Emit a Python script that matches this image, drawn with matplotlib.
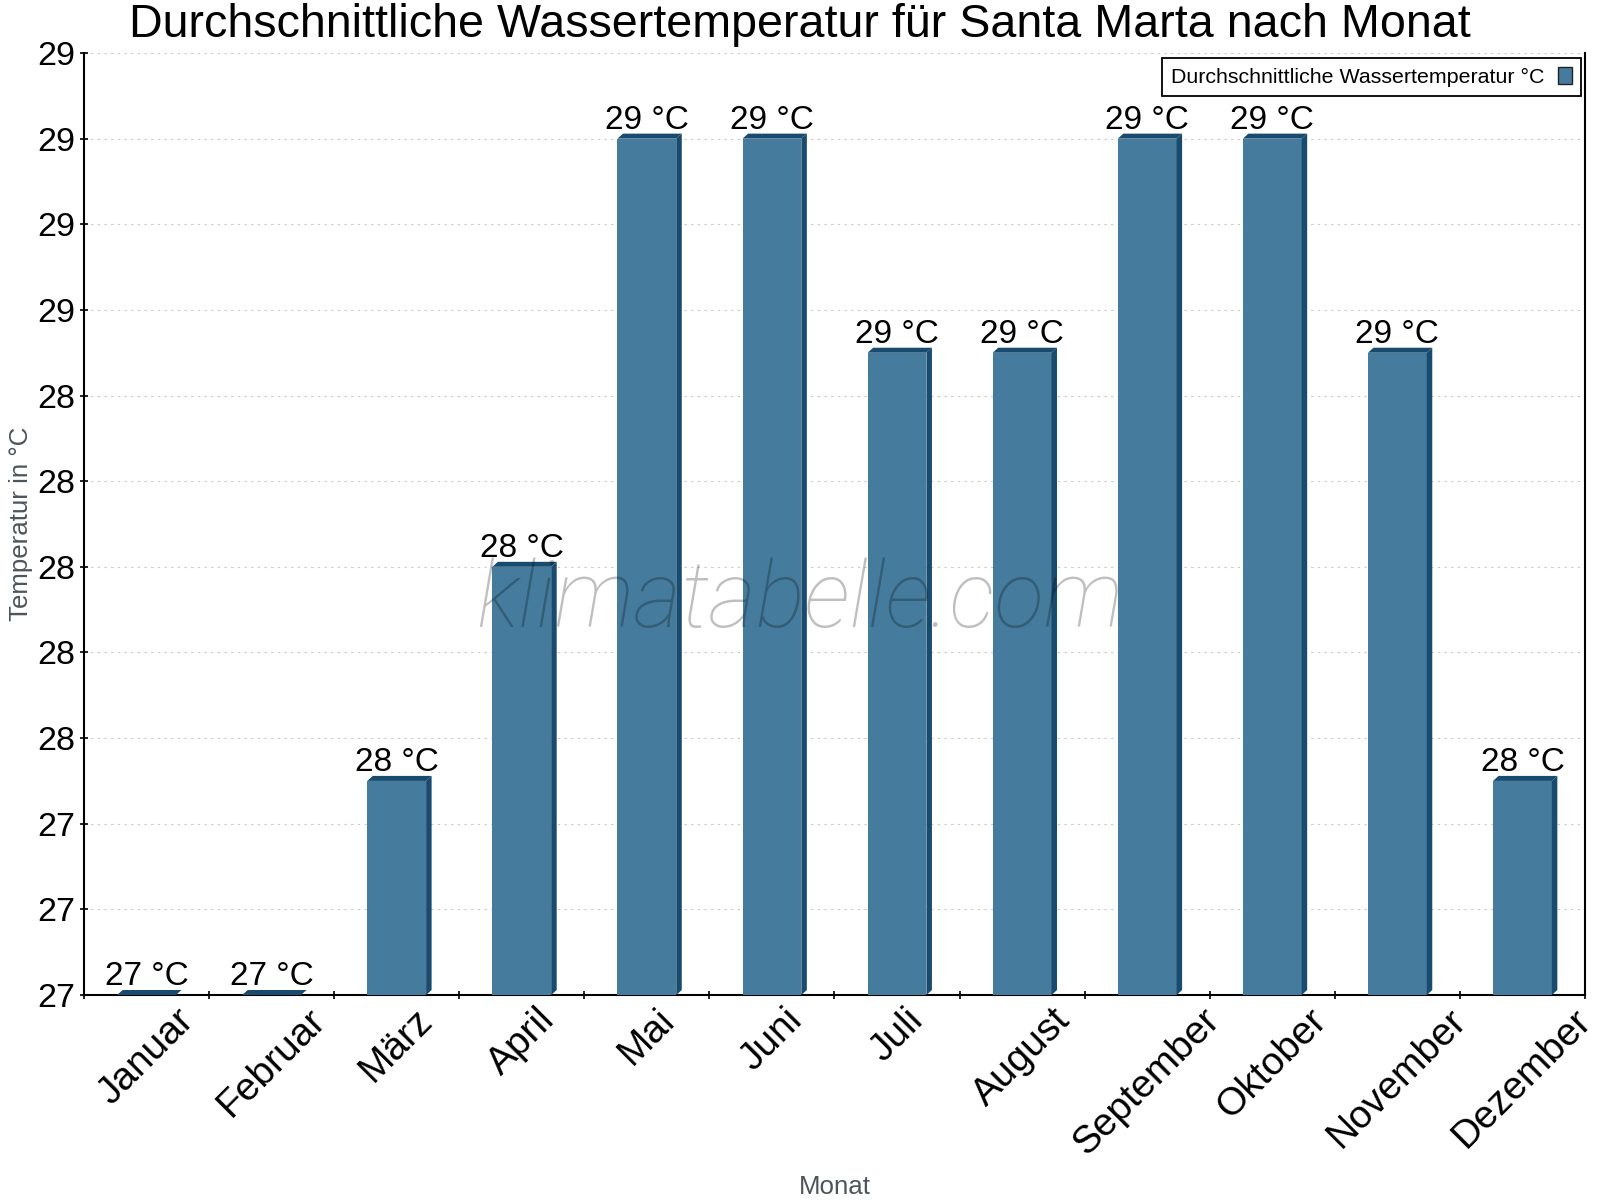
import math
import numpy as np
import matplotlib
matplotlib.use("Agg")
import matplotlib.pyplot as plt
from matplotlib.patches import Polygon
from matplotlib.ticker import FixedLocator, FuncFormatter, NullFormatter

plt.rcParams['font.family'] = ['Liberation Sans', 'DejaVu Sans']

# ---- data ----
months = ["Januar", "Februar", "März", "April", "Mai", "Juni", "Juli",
          "August", "September", "Oktober", "November", "Dezember"]
water_temp = [27.0, 27.0, 27.5, 28.0, 29.0, 29.0, 28.5, 28.5, 29.0, 29.0, 28.5, 27.5]
y_ticks = [27.0, 27.2, 27.4, 27.6, 27.8, 28.0, 28.2, 28.4, 28.6, 28.8, 29.0, 29.2]
title = "Durchschnittliche Wassertemperatur für Santa Marta nach Monat"
series_name = "Durchschnittliche Wassertemperatur °C"
x_label = "Monat"
y_label = "Temperatur in °C"
watermark = "klimatabelle.com"

front_color = "#457b9d"
dark_color = "#184b6d"

W, H = 1600, 1200
fig = plt.figure(figsize=(16, 12), dpi=100)
L, R, T, B = 84, 1585, 53, 995
ax = fig.add_axes([L / W, 1 - B / H, (R - L) / W, (B - T) / H])

x = np.arange(len(months))
bar_w = 0.47
ymin, ymax = y_ticks[0], y_ticks[-1]
ax.set_xlim(-0.5, len(months) - 0.5)
ax.set_ylim(ymin, ymax)

bars = ax.bar(x, water_temp, width=bar_w, color=front_color, zorder=3,
              label=series_name, edgecolor='none')

# 3D depth in pixels -> data units
px_x = (len(months)) / (R - L)
px_y = (ymax - ymin) / (B - T)
dx = 5.5 * px_x
dy = 5.0 * px_y
for xi, v in zip(x, water_temp):
    x0, x1 = xi - bar_w / 2, xi + bar_w / 2
    top = Polygon([(x0, v), (x0 + dx, v + dy), (x1 + dx, v + dy), (x1, v)],
                  closed=True, facecolor=dark_color, edgecolor='none', zorder=3)
    side = Polygon([(x1, ymin), (x1, v), (x1 + dx, v + dy), (x1 + dx, ymin + dy)],
                   closed=True, facecolor=dark_color, edgecolor='none', zorder=3)
    ax.add_patch(top)
    ax.add_patch(side)
    lab = f"{int(math.floor(v + 0.5))} °C"
    ax.annotate(lab, (xi, v), xytext=(0, 7.2), textcoords='offset points',
                ha='center', va='baseline', fontsize=24, color='black', zorder=5)

# axes styling
ax.spines['top'].set_visible(False)
for s in ['left', 'bottom', 'right']:
    ax.spines[s].set_linewidth(1.5)
    ax.spines[s].set_color('black')

ax.yaxis.set_major_locator(FixedLocator(y_ticks))
ax.yaxis.set_major_formatter(FuncFormatter(lambda v, p: f"{int(math.floor(v + 0.5 + 1e-9))}"))
ax.tick_params(axis='y', direction='inout', length=6, width=1.2, labelsize=24.5, pad=3,
               right=False)

ax.xaxis.set_major_locator(FixedLocator(np.arange(-0.5, len(months), 1.0)))
ax.xaxis.set_major_formatter(NullFormatter())
ax.xaxis.set_minor_locator(FixedLocator(x))
ax.set_xticks(x, minor=True)
ax.set_xticklabels(months, minor=True, rotation=45, fontsize=28)
ax.tick_params(axis='x', which='major', direction='inout', length=6, width=1.2)
ax.tick_params(axis='x', which='minor', length=0, pad=5)

ax.yaxis.grid(True, linestyle=(0, (2, 4)), color='#c8c8c8', linewidth=0.8, zorder=0)
ax.set_axisbelow(True)

# labels
ax.set_xlabel(x_label, fontsize=18.6, color='#4d545c')
ax.xaxis.label.set_va('baseline')
ax.xaxis.set_label_coords(0.5, (B - 1194) / (B - T))
ax.set_ylabel(y_label, fontsize=18.6, color='#4d545c')
ax.yaxis.label.set_va('center')
ax.yaxis.set_label_coords((21 - L) / (R - L), 0.5)

fig.text(0.5, 1 - 37 / H, title, ha='center', va='baseline', fontsize=33.6, color='black')

# legend
leg = ax.legend(loc='upper right', bbox_to_anchor=(1581 / W, 1 - 58 / H),
                bbox_transform=fig.transFigure, borderaxespad=0, markerfirst=False,
                fancybox=False, frameon=True, edgecolor='black', fontsize=15.4,
                handlelength=0.65, handleheight=0.85, handletextpad=0.65,
                borderpad=0.42, framealpha=1)
leg.get_frame().set_linewidth(1.3)
for h in leg.legend_handles:
    h.set_edgecolor('#222222')
    h.set_linewidth(1.0)

# watermark
fig.text(0.5, 1 - 627 / H, watermark, ha='center', va='baseline', fontsize=66,
         family=['Roboto', 'DejaVu Sans'], style='italic', weight='light',
         color='black', alpha=0.25, zorder=10)

fig.savefig("out.png", dpi=100)
